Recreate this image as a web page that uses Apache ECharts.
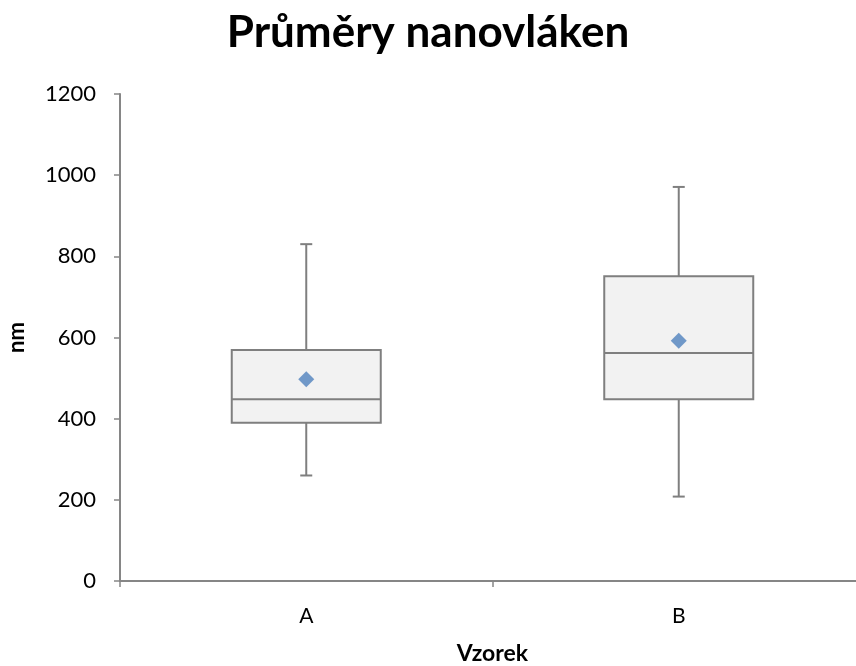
<!DOCTYPE html>
<html>
<head>
<meta charset="utf-8">
<script src="https://cdn.jsdelivr.net/npm/echarts@6/dist/echarts.min.js"></script>
<style>
html,body{margin:0;padding:0;background:#fff;}
#chart{width:856px;height:666px;}
</style>
</head>
<body>
<div id="chart"></div>
<script>
const categories = ['A', 'B'];
const minValues = [260, 208];
const q1Values = [390, 448];
const medianValues = [448, 562];
const q3Values = [569, 751];
const maxValues = [830, 971];
const meanValues = [497, 592];
const yTicks = [0, 200, 400, 600, 800, 1000, 1200];

const FONT = 'Lato, "Open Sans", sans-serif';
const boxData = categories.map((c, i) => [i, minValues[i], q1Values[i], medianValues[i], q3Values[i], maxValues[i]]);
const meanData = categories.map((c, i) => [c, meanValues[i]]);

const chart = echarts.init(document.getElementById('chart'));
chart.setOption({
  animation: false,
  backgroundColor: '#ffffff',
  title: {
    text: 'Průměry nanovláken',
    left: 'center',
    top: 6,
    textStyle: {fontFamily: FONT, fontSize: 44, fontWeight: 'bold', color: '#000'}
  },
  grid: {left: 120, top: 94, bottom: 85, width: 745, containLabel: false, outerBoundsMode: 'none'},
  xAxis: {
    type: 'category',
    data: categories,
    boundaryGap: true,
    name: 'Vzorek',
    nameLocation: 'middle',
    nameGap: 61,
    nameTextStyle: {fontFamily: FONT, fontSize: 23, fontWeight: 'bold', color: '#000'},
    axisLine: {lineStyle: {color: '#868686', width: 2}},
    axisTick: {show: true, length: 6, lineStyle: {color: '#868686', width: 1.5}},
    axisLabel: {fontFamily: FONT, fontSize: 21, color: '#000', margin: 25},
    splitLine: {show: false}
  },
  yAxis: {
    type: 'value',
    min: yTicks[0],
    max: yTicks[yTicks.length - 1],
    interval: 200,
    name: 'nm',
    nameLocation: 'middle',
    nameGap: 92,
    nameRotate: 90,
    nameTextStyle: {fontFamily: FONT, fontSize: 22, fontWeight: 'bold', color: '#000'},
    axisLine: {show: true, lineStyle: {color: '#868686', width: 2}},
    axisTick: {show: true, length: 6, lineStyle: {color: '#868686', width: 1.5}},
    axisLabel: {fontFamily: FONT, fontSize: 22, color: '#000', margin: 24, formatter: v => String(v)},
    splitLine: {show: false}
  },
  series: [
    {
      type: 'custom',
      data: boxData,
      encode: {x: 0, y: [1, 2, 3, 4, 5]},
      renderItem: function (params, api) {
        const idx = api.value(0);
        const pMin = api.coord([idx, api.value(1)]);
        const pQ1 = api.coord([idx, api.value(2)]);
        const pMed = api.coord([idx, api.value(3)]);
        const pQ3 = api.coord([idx, api.value(4)]);
        const pMax = api.coord([idx, api.value(5)]);
        const bandW = api.size([1, 0])[0];
        const halfW = bandW * 0.2;
        const cap = 6;
        const x = pQ1[0];
        const stroke = {stroke: '#7f7f7f', lineWidth: 2};
        return {
          type: 'group',
          children: [
            {type: 'line', shape: {x1: x, y1: pQ3[1], x2: x, y2: pMax[1]}, style: stroke},
            {type: 'line', shape: {x1: x - cap, y1: pMax[1], x2: x + cap, y2: pMax[1]}, style: stroke},
            {type: 'line', shape: {x1: x, y1: pQ1[1], x2: x, y2: pMin[1]}, style: stroke},
            {type: 'line', shape: {x1: x - cap, y1: pMin[1], x2: x + cap, y2: pMin[1]}, style: stroke},
            {type: 'rect', shape: {x: x - halfW, y: pQ3[1], width: halfW * 2, height: pQ1[1] - pQ3[1]},
              style: {fill: '#f2f2f2', stroke: '#7f7f7f', lineWidth: 2}},
            {type: 'line', shape: {x1: x - halfW, y1: pMed[1], x2: x + halfW, y2: pMed[1]}, style: stroke}
          ]
        };
      },
      z: 2
    },
    {
      type: 'scatter',
      data: meanData,
      symbol: 'diamond',
      symbolSize: [16, 16],
      itemStyle: {color: '#4f81bd'},
      z: 5
    }
  ]
});
</script>
</body>
</html>
